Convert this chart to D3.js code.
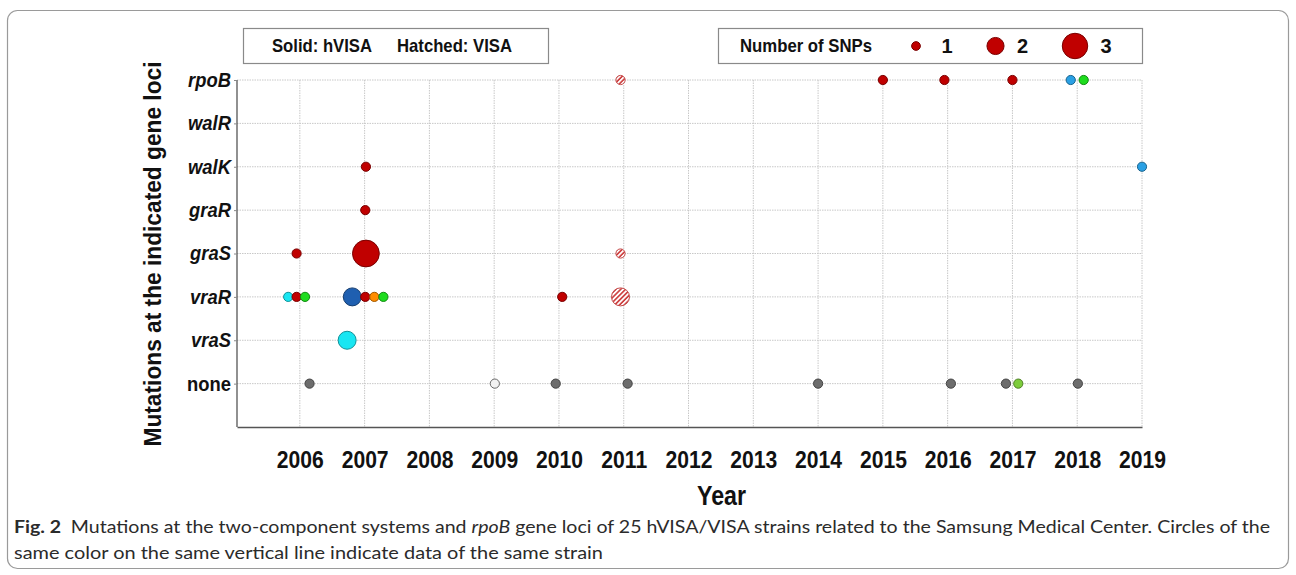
<!DOCTYPE html>
<html>
<head>
<meta charset="utf-8">
<script src="https://cdn.jsdelivr.net/npm/d3@7"></script>
<style>
  body { margin: 0; background: #fff; }
  svg text { font-family: "Liberation Sans", Arial, sans-serif; }
</style>
</head>
<body>
<div id="chart"></div>
<script>
// gene loci, bottom to top
const genes = ["none", "vraS", "vraR", "graS", "graR", "walK", "walR", "rpoB"];
const years = [2006, 2007, 2008, 2009, 2010, 2011, 2012, 2013, 2014, 2015, 2016, 2017, 2018, 2019];
const snpLegend = [1, 2, 3];

// strain colours (same colour on the same year = same strain)
const strainColors = {
  red: "#c00000",
  cyan: "#19e6f2",
  green: "#1edc1e",
  orange: "#ff8c00",
  navy: "#1f5fb0",
  sky: "#2aa0e4",
  grey: "#6d6d6d",
  white: "#f2f2f2",
  lime: "#7dcc3c"
};

// year = isolation year, shift = horizontal jitter (in years)
const mutations = [
  { year: 2011, shift: -0.05, gene: "rpoB", snps: 1, strain: "red", hatched: true },
  { year: 2015, shift: 0.0, gene: "rpoB", snps: 1, strain: "red", hatched: false },
  { year: 2016, shift: -0.05, gene: "rpoB", snps: 1, strain: "red", hatched: false },
  { year: 2017, shift: 0.0, gene: "rpoB", snps: 1, strain: "red", hatched: false },
  { year: 2018, shift: -0.1, gene: "rpoB", snps: 1, strain: "sky", hatched: false },
  { year: 2018, shift: 0.1, gene: "rpoB", snps: 1, strain: "green", hatched: false },
  { year: 2007, shift: 0.02, gene: "walK", snps: 1, strain: "red", hatched: false },
  { year: 2019, shift: 0.0, gene: "walK", snps: 1, strain: "sky", hatched: false },
  { year: 2007, shift: 0.01, gene: "graR", snps: 1, strain: "red", hatched: false },
  { year: 2006, shift: -0.05, gene: "graS", snps: 1, strain: "red", hatched: false },
  { year: 2007, shift: 0.02, gene: "graS", snps: 3, strain: "red", hatched: false },
  { year: 2011, shift: -0.05, gene: "graS", snps: 1, strain: "red", hatched: true },
  { year: 2006, shift: -0.18, gene: "vraR", snps: 1, strain: "cyan", hatched: false },
  { year: 2006, shift: -0.05, gene: "vraR", snps: 1, strain: "red", hatched: false },
  { year: 2006, shift: 0.08, gene: "vraR", snps: 1, strain: "green", hatched: false },
  { year: 2007, shift: -0.19, gene: "vraR", snps: 2, strain: "navy", hatched: false },
  { year: 2007, shift: 0.01, gene: "vraR", snps: 1, strain: "red", hatched: false },
  { year: 2007, shift: 0.15, gene: "vraR", snps: 1, strain: "orange", hatched: false },
  { year: 2007, shift: 0.29, gene: "vraR", snps: 1, strain: "green", hatched: false },
  { year: 2010, shift: 0.05, gene: "vraR", snps: 1, strain: "red", hatched: false },
  { year: 2011, shift: -0.05, gene: "vraR", snps: 2, strain: "red", hatched: true },
  { year: 2007, shift: -0.27, gene: "vraS", snps: 2, strain: "cyan", hatched: false },
  { year: 2006, shift: 0.15, gene: "none", snps: 0, strain: "grey", hatched: false },
  { year: 2009, shift: 0.01, gene: "none", snps: 0, strain: "white", hatched: false },
  { year: 2010, shift: -0.05, gene: "none", snps: 0, strain: "grey", hatched: false },
  { year: 2011, shift: 0.06, gene: "none", snps: 0, strain: "grey", hatched: false },
  { year: 2014, shift: 0.0, gene: "none", snps: 0, strain: "grey", hatched: false },
  { year: 2016, shift: 0.05, gene: "none", snps: 0, strain: "grey", hatched: false },
  { year: 2017, shift: -0.1, gene: "none", snps: 0, strain: "grey", hatched: false },
  { year: 2017, shift: 0.09, gene: "none", snps: 0, strain: "lime", hatched: false },
  { year: 2018, shift: 0.01, gene: "none", snps: 0, strain: "grey", hatched: false }
];

const width = 1296, height = 575;
const plot = { left: 237, right: 1142, top: 80, bottom: 427 };

const svg = d3.select("#chart").append("svg")
  .attr("width", width)
  .attr("height", height);

// hatch pattern for VISA
const defs = svg.append("defs");
const hatch = defs.append("pattern")
  .attr("id", "hatch")
  .attr("patternUnits", "userSpaceOnUse")
  .attr("width", 3.4)
  .attr("height", 3.4)
  .attr("patternTransform", "rotate(45)");
hatch.append("rect").attr("width", 3.4).attr("height", 3.4).attr("fill", "#fff");
hatch.append("line")
  .attr("x1", 0.9).attr("y1", 0).attr("x2", 0.9).attr("y2", 3.4)
  .attr("stroke", "#cc3a3a").attr("stroke-width", 1.6);

// outer figure frame
svg.append("rect")
  .attr("x", 7.5).attr("y", 10.5)
  .attr("width", 1281).attr("height", 558)
  .attr("rx", 10)
  .attr("fill", "none")
  .attr("stroke", "#9a9a9a")
  .attr("stroke-width", 1.2);

// scales
const x = d3.scaleLinear().domain([2005.03, 2019]).range([plot.left, plot.right]);
const y = d3.scaleLinear().domain([-1, genes.length - 1]).range([plot.bottom, plot.top]);
const r = d3.scaleLinear().domain([1, 3]).range([4.6, 13.4]);
const geneY = g => y(genes.indexOf(g));

// condensed bold text helper
function condensed(sel, factor) {
  sel.each(function () {
    const len = this.getComputedTextLength();
    d3.select(this).attr("textLength", len * factor).attr("lengthAdjust", "spacingAndGlyphs");
  });
}

// grid
const grid = svg.append("g");
grid.selectAll(".vgrid").data(years).join("line")
  .attr("x1", d => x(d)).attr("x2", d => x(d))
  .attr("y1", plot.top).attr("y2", plot.bottom)
  .attr("stroke", "#c8c8c8")
  .attr("stroke-dasharray", "1.5,1")
  .attr("stroke-width", 1);
grid.selectAll(".hgrid").data(genes).join("line")
  .attr("x1", plot.left).attr("x2", plot.right)
  .attr("y1", d => geneY(d)).attr("y2", d => geneY(d))
  .attr("stroke", "#c8c8c8")
  .attr("stroke-dasharray", "1.5,1")
  .attr("stroke-width", 1);

// x axis
const xAxis = svg.append("g")
  .attr("transform", `translate(0,${plot.bottom})`)
  .call(d3.axisBottom(x).tickValues(years).tickFormat(d3.format("d")).tickSize(0).tickSizeOuter(0).tickPadding(24));
xAxis.select(".domain").attr("stroke", "#555").attr("stroke-width", 1.3);
xAxis.selectAll("text")
  .attr("fill", "#111")
  .style("font-size", "24px")
  .style("font-weight", "bold")
  .call(condensed, 0.88);

// y axis
const yAxis = svg.append("g")
  .attr("transform", `translate(${plot.left},0)`)
  .call(d3.axisLeft(y).tickValues(d3.range(genes.length)).tickFormat(i => genes[i]).tickSize(3).tickSizeOuter(0).tickPadding(3));
yAxis.select(".domain").attr("stroke", "#555").attr("stroke-width", 1.3)
  .attr("d", `M0,${plot.top}V${plot.bottom}`);
yAxis.selectAll(".tick line").attr("stroke", "#888");
yAxis.selectAll("text")
  .attr("fill", "#111")
  .style("font-size", "20px")
  .style("font-weight", "bold")
  .style("font-style", i => genes[i] === "none" ? "normal" : "italic")
  .call(condensed, 0.92);

// axis titles
svg.append("text")
  .attr("x", (plot.left + plot.right) / 2 + 32)
  .attr("y", 505)
  .attr("text-anchor", "middle")
  .attr("fill", "#111")
  .style("font-size", "27px")
  .style("font-weight", "bold")
  .text("Year")
  .call(condensed, 0.86);

svg.append("text")
  .attr("transform", "translate(161,254) rotate(-90)")
  .attr("text-anchor", "middle")
  .attr("fill", "#111")
  .style("font-size", "23px")
  .style("font-weight", "bold")
  .text("Mutations at the indicated gene loci")
  .attr("textLength", 385)
  .attr("lengthAdjust", "spacingAndGlyphs");

// points
svg.append("g").selectAll("circle")
  .data(mutations)
  .join("circle")
  .attr("cx", d => x(d.year + d.shift))
  .attr("cy", d => geneY(d.gene))
  .attr("r", d => r(Math.max(1, d.snps)))
  .attr("fill", d => d.hatched ? "url(#hatch)" : strainColors[d.strain])
  .attr("stroke", d => d.hatched ? "#c44a4a"
    : d.strain === "white" ? "#6a6a6a"
    : d3.color(strainColors[d.strain]).darker(1.3))
  .attr("stroke-width", 1);

// legend: solid / hatched
const legA = svg.append("g");
legA.append("rect")
  .attr("x", 243.5).attr("y", 28.5).attr("width", 305).attr("height", 35)
  .attr("fill", "#fff").attr("stroke", "#8a8a8a").attr("stroke-width", 1.2);
legA.append("text").attr("x", 272).attr("y", 52)
  .attr("fill", "#111").style("font-size", "19px").style("font-weight", "bold")
  .text("Solid: hVISA").attr("textLength", 100).attr("lengthAdjust", "spacingAndGlyphs");
legA.append("text").attr("x", 397).attr("y", 52)
  .attr("fill", "#111").style("font-size", "19px").style("font-weight", "bold")
  .text("Hatched: VISA").attr("textLength", 115).attr("lengthAdjust", "spacingAndGlyphs");

// legend: number of SNPs
const legB = svg.append("g");
legB.append("rect")
  .attr("x", 718.5).attr("y", 28.5).attr("width", 424).attr("height", 35)
  .attr("fill", "#fff").attr("stroke", "#8a8a8a").attr("stroke-width", 1.2);
legB.append("text").attr("x", 740).attr("y", 52)
  .attr("fill", "#111").style("font-size", "19px").style("font-weight", "bold")
  .text("Number of SNPs").attr("textLength", 132).attr("lengthAdjust", "spacingAndGlyphs");
const legX = d3.scalePoint().domain(snpLegend).range([916, 1075]);
const legItem = legB.selectAll(".snp").data(snpLegend).join("g");
legItem.append("circle")
  .attr("cx", d => legX(d)).attr("cy", 46)
  .attr("r", d => r(d) * 0.95)
  .attr("fill", strainColors.red)
  .attr("stroke", d3.color(strainColors.red).darker(1.3));
legItem.append("text")
  .attr("x", d => legX(d) + [31, 27, 31][d - 1])
  .attr("y", 53)
  .attr("text-anchor", "middle")
  .attr("fill", "#111")
  .style("font-size", "20px").style("font-weight", "bold")
  .text(d => d);

// caption
const capFont = "Lato, 'Noto Sans', sans-serif";
const cap1 = svg.append("text").attr("x", 14).attr("y", 533)
  .attr("fill", "#2b2b2b")
  .style("font-family", capFont)
  .style("font-size", "16.5px");
cap1.append("tspan").style("font-weight", "bold").text("Fig. 2");
cap1.append("tspan").text("\u2002Mutations at the two-component systems and ");
cap1.append("tspan").style("font-style", "italic").text("rpoB");
cap1.append("tspan").text(" gene loci of 25 hVISA/VISA strains related to the Samsung Medical Center. Circles of the");
cap1.attr("textLength", 1256).attr("lengthAdjust", "spacingAndGlyphs");

svg.append("text").attr("x", 14).attr("y", 559)
  .attr("fill", "#2b2b2b")
  .style("font-family", capFont)
  .style("font-size", "16.5px")
  .text("same color on the same vertical line indicate data of the same strain")
  .attr("textLength", 589).attr("lengthAdjust", "spacingAndGlyphs");
</script>
</body>
</html>
